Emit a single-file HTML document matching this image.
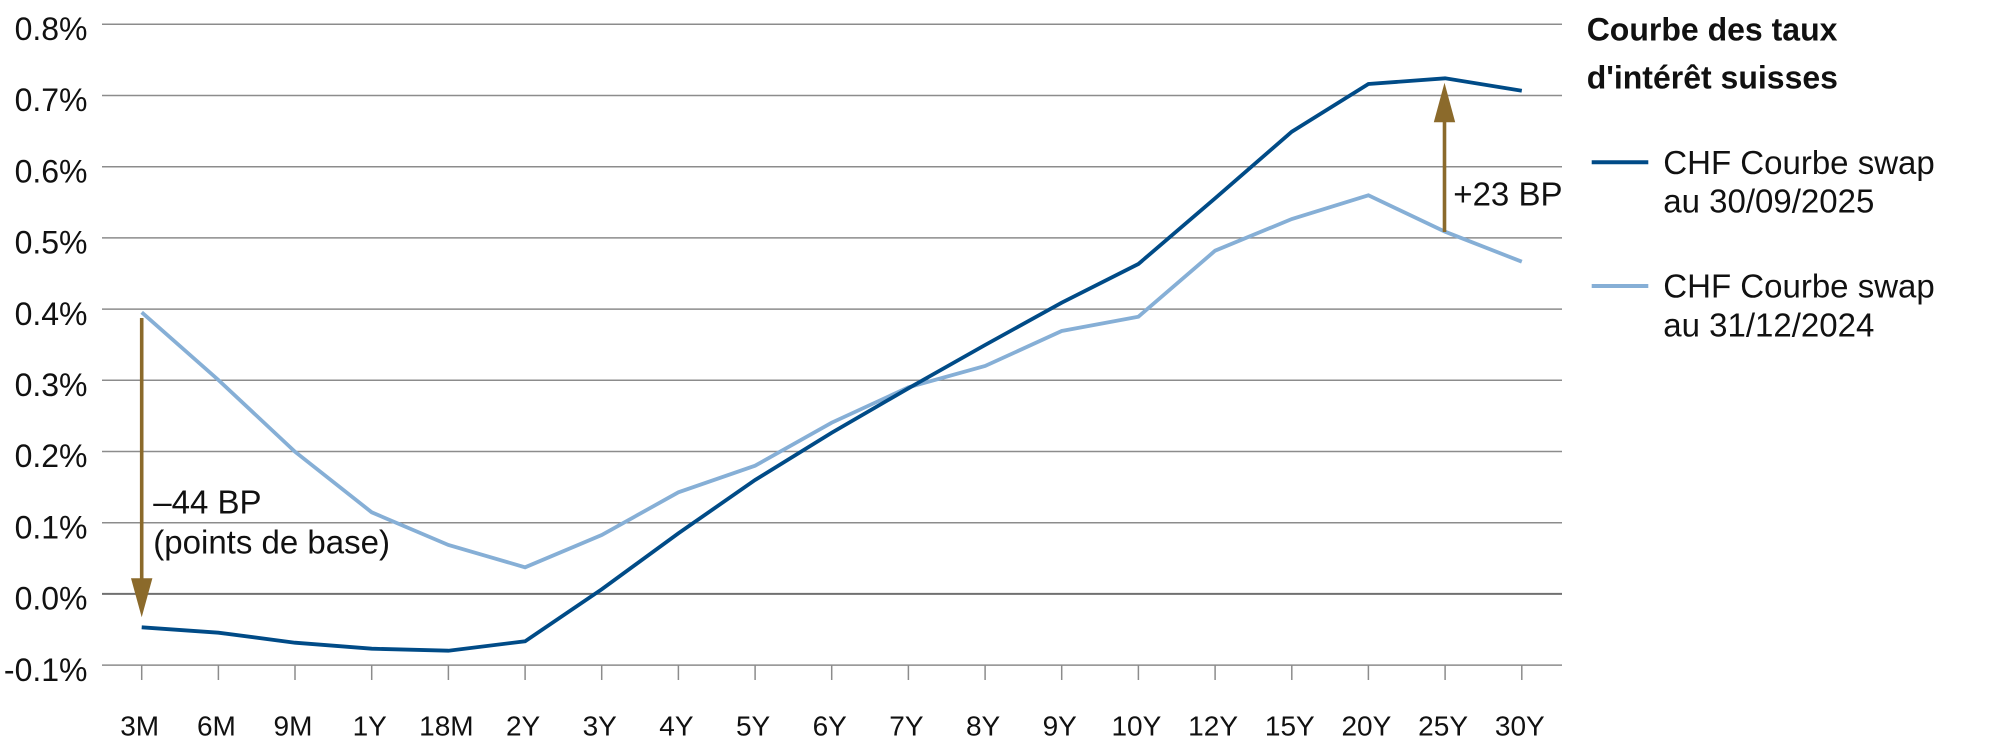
<!DOCTYPE html>
<html>
<head>
<meta charset="utf-8">
<style>
html,body{margin:0;padding:0;background:#fff;}
svg{display:block;}
text{font-family:"Liberation Sans",Arial,sans-serif;fill:#111;}
</style>
</head>
<body>
<svg width="2000" height="753" viewBox="0 0 2000 753" xmlns="http://www.w3.org/2000/svg">
  <!-- gridlines -->
  <g stroke="#8c8c8c" stroke-width="1.5">
    <line x1="102" y1="24.3" x2="1562" y2="24.3"/>
    <line x1="102" y1="95.5" x2="1562" y2="95.5"/>
    <line x1="102" y1="166.7" x2="1562" y2="166.7"/>
    <line x1="102" y1="237.9" x2="1562" y2="237.9"/>
    <line x1="102" y1="309.1" x2="1562" y2="309.1"/>
    <line x1="102" y1="380.3" x2="1562" y2="380.3"/>
    <line x1="102" y1="451.5" x2="1562" y2="451.5"/>
    <line x1="102" y1="522.7" x2="1562" y2="522.7"/>
    <line x1="102" y1="665.1" x2="1562" y2="665.1"/>
  </g>
  <line x1="102" y1="593.9" x2="1562" y2="593.9" stroke="#707070" stroke-width="2"/>

  <!-- ticks -->
  <g stroke="#8c8c8c" stroke-width="1.5">
    <line x1="141.7" y1="665" x2="141.7" y2="680"/>
    <line x1="218.4" y1="665" x2="218.4" y2="680"/>
    <line x1="295.0" y1="665" x2="295.0" y2="680"/>
    <line x1="371.7" y1="665" x2="371.7" y2="680"/>
    <line x1="448.4" y1="665" x2="448.4" y2="680"/>
    <line x1="525.1" y1="665" x2="525.1" y2="680"/>
    <line x1="601.7" y1="665" x2="601.7" y2="680"/>
    <line x1="678.4" y1="665" x2="678.4" y2="680"/>
    <line x1="755.1" y1="665" x2="755.1" y2="680"/>
    <line x1="831.7" y1="665" x2="831.7" y2="680"/>
    <line x1="908.4" y1="665" x2="908.4" y2="680"/>
    <line x1="985.1" y1="665" x2="985.1" y2="680"/>
    <line x1="1061.7" y1="665" x2="1061.7" y2="680"/>
    <line x1="1138.4" y1="665" x2="1138.4" y2="680"/>
    <line x1="1215.1" y1="665" x2="1215.1" y2="680"/>
    <line x1="1291.8" y1="665" x2="1291.8" y2="680"/>
    <line x1="1368.4" y1="665" x2="1368.4" y2="680"/>
    <line x1="1445.1" y1="665" x2="1445.1" y2="680"/>
    <line x1="1521.8" y1="665" x2="1521.8" y2="680"/>
  </g>

  <!-- y labels -->
  <g font-size="32" text-anchor="end">
    <text x="87.5" y="40">0.8%</text>
    <text x="87.5" y="111.2">0.7%</text>
    <text x="87.5" y="182.4">0.6%</text>
    <text x="87.5" y="253.6">0.5%</text>
    <text x="87.5" y="324.8">0.4%</text>
    <text x="87.5" y="396">0.3%</text>
    <text x="87.5" y="467.2">0.2%</text>
    <text x="87.5" y="538.4">0.1%</text>
    <text x="87.5" y="609.6">0.0%</text>
    <text x="87.5" y="680.8">-0.1%</text>
  </g>

  <!-- x labels -->
  <g font-size="28" text-anchor="middle">
    <text x="139.7" y="735.7">3M</text>
    <text x="216.4" y="735.7">6M</text>
    <text x="293.0" y="735.7">9M</text>
    <text x="369.7" y="735.7">1Y</text>
    <text x="446.4" y="735.7">18M</text>
    <text x="523.1" y="735.7">2Y</text>
    <text x="599.7" y="735.7">3Y</text>
    <text x="676.4" y="735.7">4Y</text>
    <text x="753.1" y="735.7">5Y</text>
    <text x="829.7" y="735.7">6Y</text>
    <text x="906.4" y="735.7">7Y</text>
    <text x="983.1" y="735.7">8Y</text>
    <text x="1059.7" y="735.7">9Y</text>
    <text x="1136.4" y="735.7">10Y</text>
    <text x="1213.1" y="735.7">12Y</text>
    <text x="1289.8" y="735.7">15Y</text>
    <text x="1366.4" y="735.7">20Y</text>
    <text x="1443.1" y="735.7">25Y</text>
    <text x="1519.8" y="735.7">30Y</text>
  </g>

  <!-- light series (31/12/2024) -->
  <polyline fill="none" stroke="#86afd6" stroke-width="3.8" stroke-linejoin="miter"
    points="141.7,312.3 218.4,380 295.0,451.7 371.7,512.3 448.4,545 525.1,567.3 601.7,535 678.4,492.3 755.1,465.7 831.7,422.7 908.4,387.3 985.1,366 1061.7,331 1138.4,316.7 1215.1,250.7 1291.8,219 1368.4,195.3 1445.1,231.7 1521.8,261.7"/>

  <!-- dark series (30/09/2025) -->
  <polyline fill="none" stroke="#004b87" stroke-width="3.8" stroke-linejoin="miter"
    points="141.7,627.3 218.4,632.7 295.0,642.7 371.7,648.7 448.4,650.7 525.1,641.3 601.7,589.3 678.4,533.3 755.1,480 831.7,432.7 908.4,388.3 985.1,345 1061.7,302.7 1138.4,264 1215.1,198.3 1291.8,131.7 1368.4,84 1445.1,78.3 1521.8,90.7"/>

  <!-- arrows -->
  <g fill="#8b6a2b" stroke="none">
    <rect x="139.9" y="318" width="3.6" height="262"/>
    <polygon points="131,578.3 152.4,578.3 141.7,617.3"/>
    <rect x="1442.7" y="121" width="3.6" height="111"/>
    <polygon points="1433.8,122.3 1455.2,122.3 1444.5,82.7"/>
  </g>

  <!-- annotations -->
  <g font-size="33">
    <text x="153.3" y="513.3">–44 BP</text>
    <text x="153.3" y="553.3">(points de base)</text>
    <text x="1453.3" y="205.7">+23 BP</text>
  </g>

  <!-- legend -->
  <g font-size="32" font-weight="bold">
    <text x="1586.7" y="40.7">Courbe des taux</text>
    <text x="1586.7" y="88.3">d'intérêt suisses</text>
  </g>
  <line x1="1591.7" y1="162.3" x2="1648.3" y2="162.3" stroke="#004b87" stroke-width="4"/>
  <line x1="1591.7" y1="286" x2="1648.3" y2="286" stroke="#86afd6" stroke-width="4"/>
  <g font-size="33">
    <text x="1663.3" y="174">CHF Courbe swap</text>
    <text x="1663.3" y="212.7">au 30/09/2025</text>
    <text x="1663.3" y="297.3">CHF Courbe swap</text>
    <text x="1663.3" y="336.7">au 31/12/2024</text>
  </g>
</svg>
</body>
</html>
